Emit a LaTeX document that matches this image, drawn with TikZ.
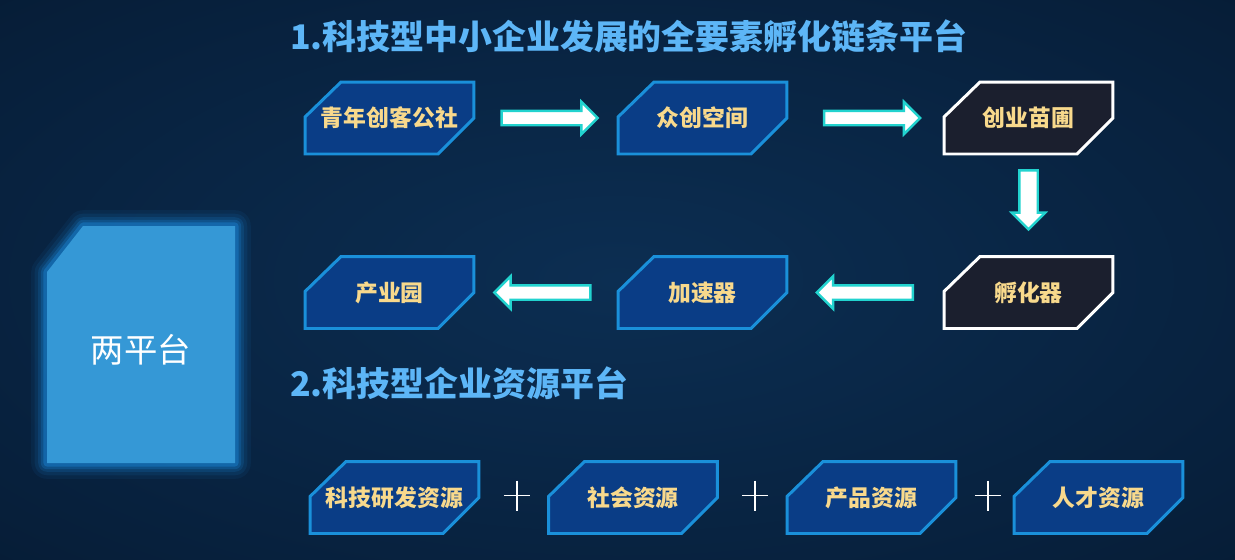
\documentclass[tikz,border=0pt]{standalone}
\usepackage{fontspec}
\setmainfont{Noto Sans CJK SC}
\usetikzlibrary{shapes.arrows,calc}

\definecolor{bgdark}{HTML}{020B16}
\definecolor{bgmid}{HTML}{0C2E52}
\definecolor{bgmidtwo}{HTML}{07203C}
\definecolor{tilefill}{HTML}{0A3D86}
\definecolor{tileline}{HTML}{1A90DA}
\definecolor{nightfill}{HTML}{1B1F2E}
\definecolor{labelgold}{HTML}{F8D98C}
\definecolor{titleblue}{HTML}{5DB6F7}
\definecolor{flowcyan}{HTML}{22D3CF}
\definecolor{platblue}{HTML}{3598D6}
\definecolor{glowblue}{HTML}{1C8FE6}

\pgfdeclareradialshading{bgglow}{\pgfpoint{0bp}{0bp}}{color(0bp)=(bgmid); color(30bp)=(bgmidtwo); color(72bp)=(bgdark)}

\tikzset{
  chamfer/.style 2 args={path picture={
    \draw[draw=#1, fill=#2, line width=1.7pt, line join=miter]
      ([xshift=1.5pt,yshift=-0.7cm-1.5pt]path picture bounding box.north west)
      -- ([xshift=0.72cm+1.5pt,yshift=-1.5pt]path picture bounding box.north west)
      -- ([xshift=-1.5pt,yshift=-1.5pt]path picture bounding box.north east)
      -- ([xshift=-1.5pt,yshift=0.72cm+1.5pt]path picture bounding box.south east)
      -- ([xshift=-0.72cm-1.5pt,yshift=1.5pt]path picture bounding box.south east)
      -- ([xshift=1.5pt,yshift=1.5pt]path picture bounding box.south west) -- cycle;}},
  tile/.style={rectangle, minimum width=3.38cm+3pt, minimum height=1.44cm+3pt, inner sep=0pt,
    chamfer={tileline}{tilefill}, text=labelgold, font=\bfseries\fontsize{13}{15}\selectfont},
  nighttile/.style={tile, chamfer={white}{nightfill}},
  flow/.style={single arrow, single arrow head extend=0.18cm, single arrow head indent=0pt,
    minimum height=1.92cm, inner sep=0pt, text height=0.24cm, text depth=0pt,
    fill=white, draw=flowcyan, line width=1.4pt},
  dropflow/.style={flow, minimum height=1.18cm, text height=0.32cm, single arrow head extend=0.15cm},
  heading/.style={anchor=west, text=titleblue, font=\bfseries\fontsize{19.3}{22}\selectfont},
  plusmark/.style={draw=white, line width=1.1pt}
}

\begin{document}
\begin{tikzpicture}[x=0.02cm,y=-0.02cm]
  \useasboundingbox (0,0) rectangle (1235,559);
  \shade[shading=bgglow] (0,0) rectangle (1235,559);

  % left block with glow
  \foreach \w/\o in {18pt/0.07,14pt/0.1,10pt/0.15,7pt/0.22,4pt/0.35}
    \draw[glowblue, line width=\w, opacity=\o, line join=round]
      (47,272) -- (83,226) -- (235,226) -- (235,463) -- (47,463) -- cycle;
  \fill[platblue] (47,272) -- (83,226) -- (235,226) -- (235,463) -- (47,463) -- cycle;
  \node[text=white, font=\fontsize{19}{22}\selectfont] (plat) at (141,350) {两平台};

  % 1. incubation chain
  \node[heading] (headone) at (284,36) {1.科技型中小企业发展的全要素孵化链条平台};
  \node[tile] (youth) at (389.5,118) {青年创客公社};
  \node[tile] (space) at (702.5,118) {众创空间};
  \node[nighttile] (nursery) at (1028.5,118) {创业苗圃};
  \node[nighttile] (incub) at (1028.5,292.5) {孵化器};
  \node[tile] (accel) at (702.5,292.5) {加速器};
  \node[tile] (park) at (389.5,292.5) {产业园};

  \node[flow] (fone) at ($(youth.east)!0.5!(space.west)$) {};
  \node[flow] (ftwo) at ($(space.east)!0.5!(nursery.west)+(3,0)$) {};
  \node[dropflow,rotate=-90] (fthree) at ($(nursery.south)!0.5!(incub.north)+(0,-10)$) {};
  \node[flow,shape border rotate=180] (ffour) at ($(incub.west)!0.5!(accel.east)+(3,0)$) {};
  \node[flow,shape border rotate=180] (ffive) at ($(accel.west)!0.5!(park.east)$) {};

  % 2. resource platform
  \node[heading] (headtwo) at (284,383) {2.科技型企业资源平台};
  \foreach \nm/\x/\txt in {rd/394.5/科技研发资源, soc/633/社会资源, prod/871.5/产品资源, talent/1098.5/人才资源}
    \node[tile] (\nm) at (\x,497.5) {\txt};
  \foreach \a/\b in {rd/soc, soc/prod, prod/talent} {
    \coordinate (plus\a) at ($(\a.east)!0.5!(\b.west)+(3,-2)$);
    \draw[plusmark] (plus\a) ++(-13,0) -- ++(26,0) (plus\a) ++(0,-15) -- ++(0,30);
  }
\end{tikzpicture}
\end{document}
